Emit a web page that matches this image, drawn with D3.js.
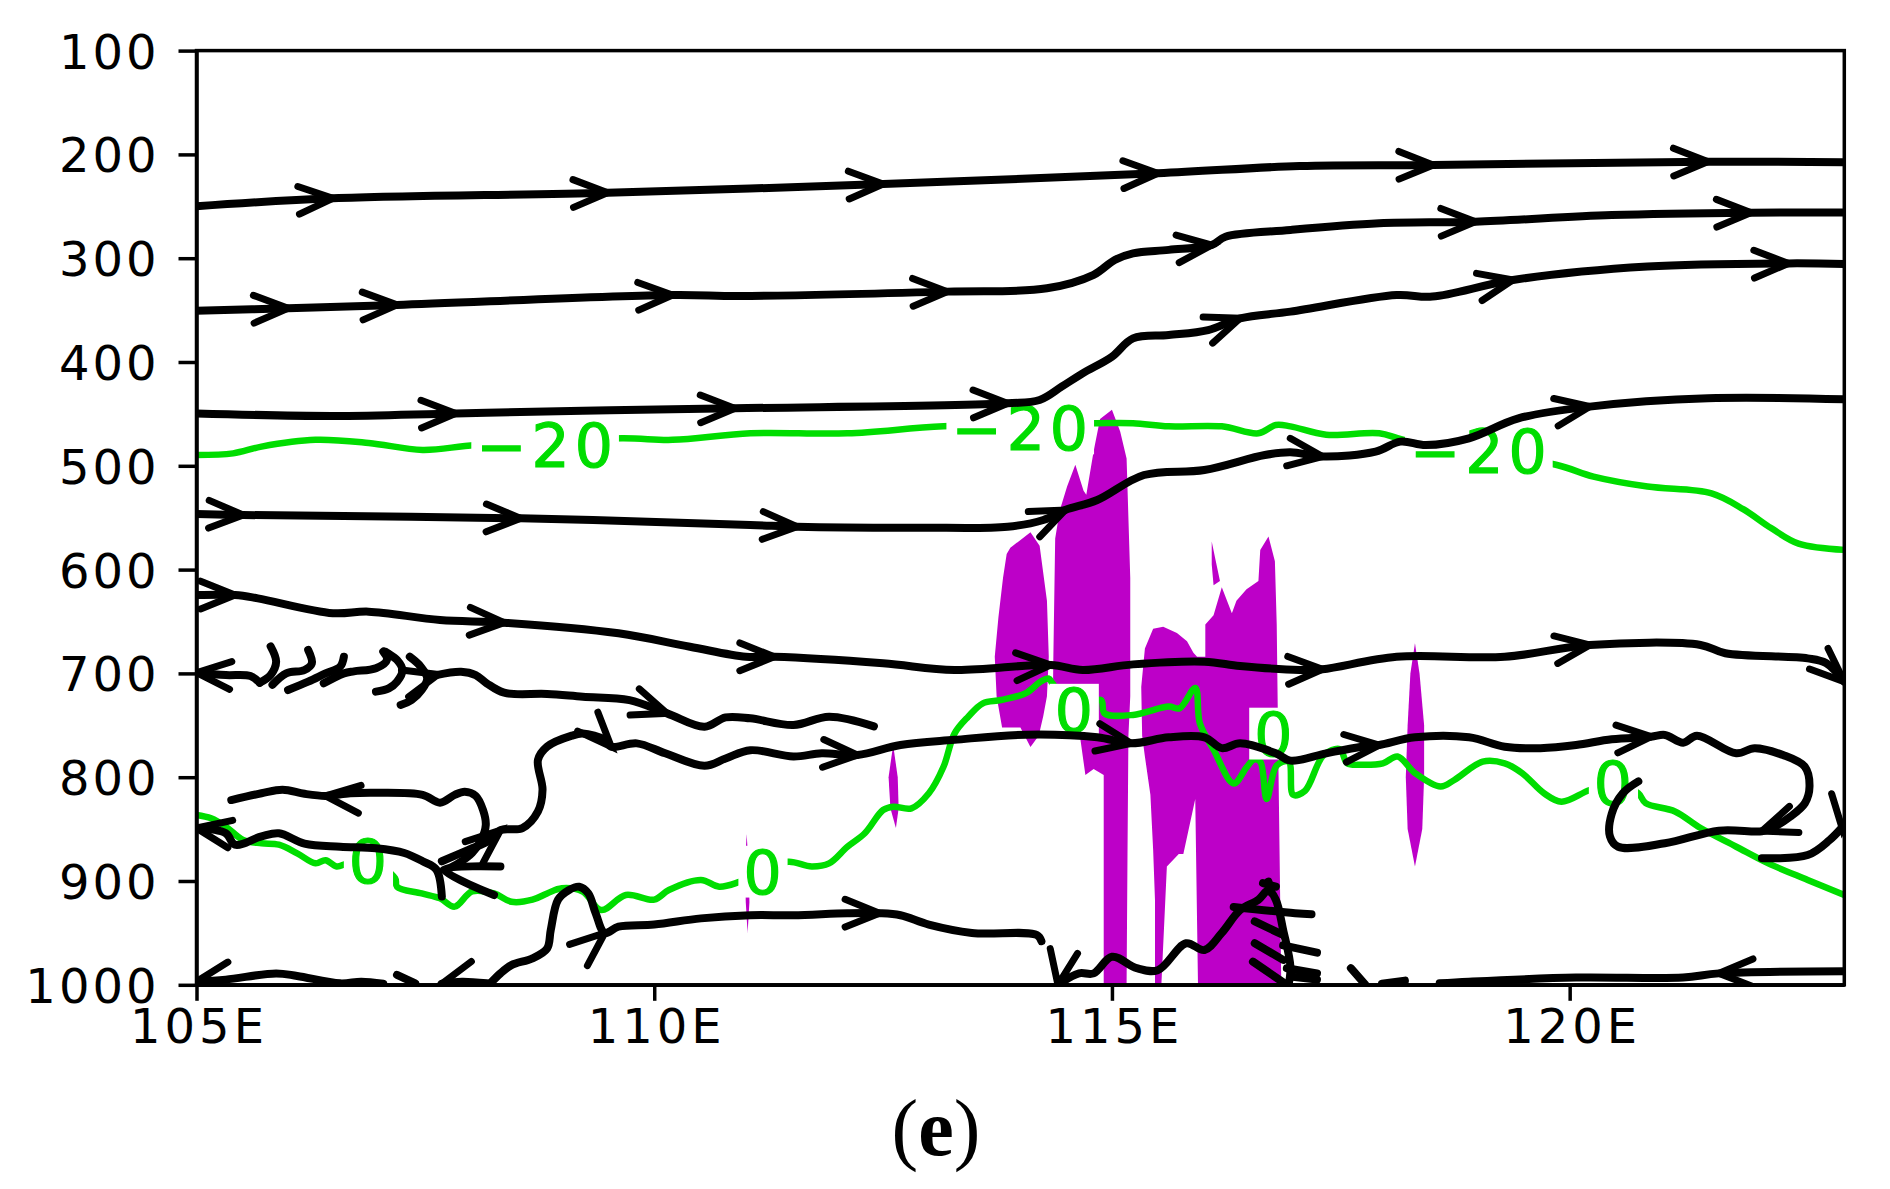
<!DOCTYPE html>
<html>
<head>
<meta charset="utf-8">
<script src="https://cdn.jsdelivr.net/npm/d3@7"></script>
<style>
  body { margin: 0; background: #fff; }
  svg { display: block; }
</style>
</head>
<body>
<svg id="chart" width="1890" height="1189"></svg>
<script>
// ---- axes ----
const lonTicks = [105, 110, 115, 120];
const presTicks = [100, 200, 300, 400, 500, 600, 700, 800, 900, 1000];

// ---- streamlines, [lon, hPa] ----
const s250 = [[105,250],[106.49,242.3],[109.49,237],[112.5,228.5],[115.5,218.2],[117.05,211.2],[118.51,210.2],[121.51,207],[123,207.6]];
const s350 = [[105,350.6],[106.0,348.3],[107.19,345],[110.2,335.5],[110.94,336.4],[113.2,332.2],[114.29,329],[114.8,316],[115.03,301.7],[115.23,295.3],[115.62,292],[116.09,287.3],[116.24,279.3],[116.95,272.8],[117.92,266.4],[118.97,264.8],[120.46,258.4],[121.98,256.1],[123,256]];
const s450 = [[105,449.5],[106.49,452],[107.83,449.5],[109.22,447],[110.88,444.6],[113.86,439.8],[114.21,436.6],[114.45,423.8],[114.68,410.9],[115.0,394.9],[115.23,377.2],[115.62,374],[116.05,369.2],[116.4,357.9],[116.95,351.5],[118.11,335.5],[118.5,337],[119.38,321],[120.85,308],[122.39,305],[123,305.5]];
const s550 = [[105,546.4],[105.51,547.4],[108.54,550.6],[111.05,557],[111.56,558.7],[112.89,559.6],[113.86,558.7],[114.25,552.2],[114.49,542.6],[114.84,533],[115.35,508.9],[116.01,504],[116.67,489.6],[116.95,487],[117.3,491],[117.88,486.4],[118.15,476.7],[118.43,480],[118.9,473.5],[119.44,454.3],[120.22,443],[121.51,435],[123,436]];
const s620 = [[105,624.5],[105.42,624.5],[105.67,627.7],[106.49,642],[106.88,640.5],[107.66,648.6],[108.36,651.1],[109.61,661.4],[110.39,674.3],[111.0,684],[111.31,684],[112.5,690.3],[113.28,696.7],[114.33,691.9],[114.68,696.7],[115.23,691.3],[116.01,688.7],[116.4,692.8],[117.05,696.7],[117.3,696],[118.11,684],[119.29,684],[120.22,672.6],[121.43,672.6],[121.7,680.6],[122.6,685.5],[122.8,690],[123.0,708]];
const s700w = [[105,699.3],[105.32,701.6],[105.59,702.5],[105.69,709]];
const hookA = [[105.69,709],[105.81,701.5],[105.87,688.7],[105.81,674]];
const hookB = [[105.83,711],[105.98,700],[106.18,696.7],[106.26,690.3],[106.22,677.4]];
const hookC = [[106.0,716],[106.22,708],[106.41,700],[106.57,693.5],[106.61,684]];
const hookD = [[106.39,709.6],[106.61,700],[106.72,698],[106.96,695],[107.08,687],[107.04,679]];
const hookE = [[106.96,717.6],[107.1,714.4],[107.19,708],[107.25,697],[107.19,687],[107.06,679]];
const hookF = [[107.23,730.4],[107.35,725.6],[107.46,716],[107.52,704.7],[107.45,693.5],[107.33,684]];
const s700e = [[107.62,701.6],[107.89,698.4],[108.05,701.6],[108.17,709.5],[108.36,718.6],[108.83,719.8],[109.22,722.5],[109.73,725.7],[110.14,738.5],[110.55,751.4],[110.78,742.4],[111.05,743.3],[111.52,749.7],[111.91,741.7],[112.4,751]];
const s800w = [[105.38,822],[105.71,815.5],[105.94,812],[106.18,816],[106.41,818],[106.68,815.5],[106.96,815],[107.47,817],[107.66,824.5],[107.82,817],[107.93,814],[108.05,818],[108.13,831.6],[108.16,846],[108.11,860.5],[108.01,873],[107.86,883],[107.74,888.7]];
const s850w = [[105,849],[105.32,854],[105.42,865],[105.71,857],[105.9,854],[106.18,864],[106.57,867],[106.96,868.5],[107.27,873],[107.47,881],[107.62,889],[107.68,915]];
const wedge = [[108.32,886],[107.7,889],[108.25,913.5]];
const s780 = [[107.68,881],[107.97,870],[108.21,860.5],[108.32,851],[108.56,849],[108.73,833],[108.78,812],[108.73,783.4],[108.83,770.6],[109.1,760],[109.22,758],[109.46,764],[109.53,770.6],[109.81,767.4],[110.12,777],[110.55,789],[110.78,782],[111.05,774],[111.52,780],[111.83,777],[112.22,778.6],[112.69,769],[113.28,764],[114.06,759],[114.84,761.6],[115.21,767.4],[115.62,761.6],[116.01,761.6],[116.2,772],[116.4,767.4],[116.79,777],[116.95,784],[117.34,777],[117.73,770.6],[117.92,769],[118.31,761.6],[118.9,761.6],[119.29,770.6],[119.68,772],[120.07,769],[120.46,763.5],[120.89,761],[121.04,759.3],[121.24,766.7],[121.39,760],[121.82,777],[122.02,772],[122.33,778.6],[122.57,790],[122.62,809],[122.57,825],[122.41,838],[122.21,849],[122.1,852],[121.63,851.5],[121.04,863.7],[120.53,867],[120.44,857],[120.46,835],[120.58,815.5],[120.75,804]];
const sHill = [[108.21,998.6],[108.32,989],[108.44,981],[108.67,974.5],[108.83,965],[108.87,947],[108.95,918],[109.07,908.6],[109.18,905.5],[109.28,912],[109.36,931],[109.46,950],[109.61,944],[110.0,942],[110.51,936],[111.05,933],[111.52,933],[112.11,931],[112.46,931],[112.69,933],[113.0,942],[113.47,950],[114.18,952],[114.23,958]];
const sRight = [[122.1,878],[122.6,875],[122.84,860.5],[123.0,846]];
const bottomW = [[105,997],[105.32,995],[105.87,989],[106.1,991.5],[106.57,998.6],[106.8,997],[107.04,999]];
const bottomBits = [[[107.19,990.5],[107.39,998.6]],[[107.68,999],[107.9,997],[108.17,998.6]],[[116.95,992],[117.24,995]],[[117.61,984],[117.77,1000]],[[117.95,999],[118.2,996]]];
const bottomRise = [[114.41,1000],[114.64,989],[114.8,989],[115.0,973],[115.27,984],[115.5,986],[115.81,960],[116.01,966.5],[116.2,950],[116.4,928],[116.6,918],[116.71,909],[116.79,918],[116.87,947],[116.95,983],[116.93,1000]];
const fan = [[[116.33,925],[117.0,931],[117.18,932]],[[116.56,939],[116.87,952]],[[116.56,960],[116.87,976]],[[116.54,977.7],[116.91,1000]],[[116.87,962],[117.24,969]],[[116.91,984],[117.24,989]],[[116.65,902],[116.79,905.5]],[[116.71,900.6],[116.74,911]]];
const bottomE = [[123,987],[121.63,989],[121.24,993],[120.07,993],[118.9,997],[118.58,998.6]];

// ---- arrowheads: [lon, hPa, direction] ('e'/'w' follow the line, number = degrees) ----
const arrowHeads = [
  [106.49,242.3,"e"],[109.49,237,"e"],[112.5,228.5,"e"],[115.5,218.2,"e"],[118.51,210.2,"e"],[121.51,207,"e"],
  [106.0,348.3,"e"],[107.19,345,"e"],[110.2,335.5,"e"],[113.2,332.2,"e"],[116.09,287.3,"e"],[118.97,264.8,"e"],[121.98,256.1,"e"],
  [107.83,449.5,"e"],[110.88,444.6,"e"],[113.86,439.8,"e"],[116.4,357.9,"e"],[119.38,321,"e"],[122.39,305,"e"],
  [105.51,547.4,"e"],[108.54,550.6,"e"],[111.56,558.7,"e"],[114.49,542.6,"e"],[117.3,491,"e"],[120.22,443,"e"],
  [105.42,624.5,"e"],[108.36,651.1,"e"],[111.31,684,"e"],[114.33,691.9,"e"],[117.3,696,"e"],[120.22,672.6,"e"],[123.0,708,-42],
  [105.0,699.3,"w"],[107.64,701,15],[110.14,738.5,"e"],
  [106.41,818,"w"],[105.0,849,"w"],
  [108.32,851,40],[109.53,770.6,"e"],[112.22,778.6,"e"],[115.21,767.4,"e"],[117.92,769,"e"],[120.89,761,"e"],[122.1,852,200],
  [109.46,950,40],[112.46,931,"e"],
  [105.0,997,190],[107.68,999,195],[114.41,1000,260],[121.63,989,"w"],[122.98,850,265]
];

// ---- shaded areas, [lon, hPa] ----
const shadeA = [[113.89,579],[114.11,564],[114.21,577],[114.29,630],[114.31,684],[114.29,722],[114.25,741],[114.2,760],[114.11,771],[114.0,752],[113.89,752],[113.8,752],[113.74,722],[113.72,684],[113.76,646],[113.81,608],[113.85,585]];
const shadeB = [[114.35,760],[114.36,684],[114.38,570],[114.43,543],[114.51,520],[114.6,499],[114.69,524],[114.72,528],[114.8,486],[114.87,455],[115.0,446],[115.09,467],[115.16,493],[115.2,608],[115.2,722],[115.18,760],[115.17,874],[115.16,1000],[114.91,1000],[114.91,798],[114.8,792],[114.71,798],[114.65,760]];
const shadeC = [[115.47,1000],[115.47,918],[115.45,870],[115.42,817],[115.36,780],[115.33,760],[115.32,713],[115.36,676],[115.45,657],[115.56,655],[115.71,661],[115.82,669],[115.89,680],[115.93,684],[116.02,684],[116.02,653],[116.11,644],[116.2,617],[116.31,642],[116.36,630],[116.47,619],[116.6,611],[116.62,581],[116.71,568],[116.78,592],[116.8,653],[116.82,798],[116.85,1000],[115.94,1000],[115.91,821],[115.78,874],[115.73,874],[115.6,886],[115.54,1000]];
const shadeD = [[116.09,573],[116.13,590],[116.18,611],[116.11,615],[116.09,595]];
const shadeE = [[118.31,671],[118.36,700],[118.41,750],[118.41,800],[118.39,850],[118.31,886],[118.23,850],[118.21,800],[118.23,750],[118.26,700]];
const shadeF = [[112.61,769],[112.66,800],[112.67,830],[112.64,849],[112.58,830],[112.56,800]];
const shadeG = [[111.01,855],[111.03,885],[111.04,920],[111.02,950],[111.0,920],[110.99,885]];

// ---- temperature contours ----
const contourM20 = [[105,489.6],[105.4,488],[105.71,481.5],[106.3,475],[106.88,478],[107.47,484.7],[108.05,480],[109.65,473.5],[110.2,475],[111.05,468.7],[112.11,468.7],[113.16,462],[114.84,459],[115.23,459],[115.62,462],[116.2,462],[116.6,468.7],[116.79,460.7],[116.95,462],[117.34,470],[117.92,468.7],[118.19,475],[119.85,499],[120.26,510.4],[120.85,520],[121.55,526.5],[121.9,542],[122.2,560],[122.5,575],[123.0,581]];
const contour0 = [[105,836.4],[105.16,839.6],[105.32,847.6],[105.51,860.5],[105.71,863.7],[105.9,865],[106.1,873.3],[106.3,883],[106.41,880],[106.53,886],[106.65,883],[106.9,880.5],[107.17,897.4],[107.19,905.5],[107.46,912],[107.66,916.7],[107.82,924.7],[108.01,910],[108.25,912],[108.44,920],[108.67,918],[108.83,912],[108.99,907],[109.22,910.3],[109.42,928],[109.69,913.5],[110.0,918],[110.16,908.7],[110.51,899],[110.71,905.5],[110.94,900.6],[111.21,891],[111.46,881.4],[111.72,886],[111.91,883],[112.11,867],[112.3,854],[112.5,831.6],[112.61,828.4],[112.81,830],[113.0,815.5],[113.16,790],[113.28,758],[113.43,741.7],[113.59,728.8],[113.79,725.6],[114.06,719],[114.22,708],[114.31,705],[114.35,709.6],[114.6,737],[114.88,725.6],[114.92,738.5],[115.23,740],[115.62,732],[115.74,733.6],[115.91,714],[115.96,748],[116.11,773.5],[116.33,806],[116.47,790.6],[116.55,783],[116.62,785],[116.69,821],[116.8,788.7],[116.93,785],[116.98,817],[117.11,813],[117.31,779],[117.49,773],[117.57,786.6],[117.73,788],[117.96,786.6],[118.12,780],[118.31,796],[118.59,809],[118.74,802.7],[119.05,785],[119.29,786.6],[119.48,796],[119.72,815.5],[119.91,823.6],[120.22,812.3],[120.5,806],[120.75,815.5],[120.83,825],[121.15,833],[121.43,849],[121.82,867],[122.17,883],[122.6,899],[123.0,913.5]];
const contourLabels = [[108.83,480,"\u221220"],[114.02,464,"\u221220"],[119.03,486,"\u221220"],
  [106.9,880.5,"0"],[111.21,891,"0"],[114.61,735,"0"],[116.79,758,"0"],[120.5,806,"0"]];

const streamlines = [s250, s350, s450, s550, s620, s700w, hookA, hookB, hookC, hookD, hookE, hookF,
  s700e, s800w, s850w, wedge, s780, sHill, sRight, bottomW, ...bottomBits, bottomRise, ...fan, bottomE];
const shading = [shadeA, shadeB, shadeC, shadeD, shadeE, shadeF, shadeG];

// ---- drawing ----
const svg = d3.select("#chart");
const plot = { x0: 196.5, x1: 1844.3, y0: 50.6, y1: 984.8 };
const x = d3.scaleLinear().domain([105, 123]).range([plot.x0, plot.x1]);
const y = d3.scaleLinear().domain([100, 1000]).range([plot.y0, plot.y1]);

const purple = "#bd00c8";
const green = "#00dd00";
const lineW = 8;

svg.append("defs").append("clipPath").attr("id", "clip")
  .append("rect")
  .attr("x", plot.x0).attr("y", plot.y0)
  .attr("width", plot.x1 - plot.x0).attr("height", plot.y1 - plot.y0);

const body = svg.append("g").attr("clip-path", "url(#clip)");

const straight = d3.line().x((d) => x(d[0])).y((d) => y(d[1]));
const smooth = d3.line().x((d) => x(d[0])).y((d) => y(d[1]))
  .curve(d3.curveCatmullRom.alpha(0.5));

body.selectAll(".shade")
  .data(shading)
  .join("path")
  .attr("class", "shade")
  .attr("d", (d) => straight(d) + "Z")
  .attr("fill", purple);

body.selectAll(".contour")
  .data([contourM20, contour0])
  .join("path")
  .attr("class", "contour")
  .attr("d", smooth)
  .attr("fill", "none")
  .attr("stroke", green)
  .attr("stroke-width", 6.5)
  .attr("stroke-linejoin", "round");

const labelSize = 60;
const labels = body.selectAll(".clabel")
  .data(contourLabels)
  .join("g")
  .attr("class", "clabel")
  .attr("transform", (d) => `translate(${x(d[0])},${y(d[1])})`);

labels.each(function (d) {
  const g = d3.select(this);
  const t = g.append("text")
    .attr("text-anchor", "middle")
    .attr("dy", "0.365em")
    .attr("font-family", "DejaVu Sans")
    .attr("font-size", labelSize)
    .attr("letter-spacing", 5)
    .attr("fill", green)
    .attr("stroke", green)
    .attr("stroke-width", 1.2)
    .text(d[2]);
  const w = t.node().getComputedTextLength();
  const h = labelSize * 0.73;
  g.insert("rect", "text")
    .attr("x", -w / 2 - 5)
    .attr("y", -h / 2 - 4)
    .attr("width", w + 6)
    .attr("height", h + 8)
    .attr("fill", "#fff");
});

body.selectAll(".stream")
  .data(streamlines)
  .join("path")
  .attr("class", "stream")
  .attr("d", smooth)
  .attr("fill", "none")
  .attr("stroke", "#000")
  .attr("stroke-width", lineW)
  .attr("stroke-linejoin", "round")
  .attr("stroke-linecap", "round");

// direction of an arrowhead: explicit angle, or tangent of the nearest line
function headDir(a) {
  if (typeof a[2] === "number") {
    const t = (a[2] * Math.PI) / 180;
    return [Math.cos(t), -Math.sin(t)];
  }
  const px = x(a[0]), py = y(a[1]);
  let best = [1, 0], bd = Infinity;
  streamlines.forEach((line) => {
    for (let i = 1; i < line.length; i++) {
      const ax = x(line[i - 1][0]), ay = y(line[i - 1][1]);
      const dx = x(line[i][0]) - ax, dy = y(line[i][1]) - ay;
      const L2 = dx * dx + dy * dy;
      let t = L2 ? ((px - ax) * dx + (py - ay) * dy) / L2 : 0;
      t = Math.max(0, Math.min(1, t));
      const dd = (ax + t * dx - px) ** 2 + (ay + t * dy - py) ** 2;
      if (dd < bd) { bd = dd; best = [dx, dy]; }
    }
  });
  let [dx, dy] = best;
  const L = Math.hypot(dx, dy);
  dx /= L; dy /= L;
  if ((a[2] === "e" && dx < 0) || (a[2] === "w" && dx > 0)) { dx = -dx; dy = -dy; }
  return [dx, dy];
}

const armLen = 37, armAng = (22 * Math.PI) / 180;
body.selectAll(".head")
  .data(arrowHeads)
  .join("path")
  .attr("class", "head")
  .attr("d", (a) => {
    const [dx, dy] = headDir(a);
    const px = x(a[0]), py = y(a[1]);
    const bx = -dx, by = -dy;
    const arm = (s) => [
      px + armLen * (bx * Math.cos(s * armAng) - by * Math.sin(s * armAng)),
      py + armLen * (bx * Math.sin(s * armAng) + by * Math.cos(s * armAng)),
    ];
    const a1 = arm(1), a2 = arm(-1);
    return `M${a1[0]},${a1[1]}L${px},${py}L${a2[0]},${a2[1]}`;
  })
  .attr("fill", "none")
  .attr("stroke", "#000")
  .attr("stroke-width", 7)
  .attr("stroke-linejoin", "miter")
  .attr("stroke-linecap", "round");

// frame and axes
svg.append("rect")
  .attr("x", plot.x0).attr("y", plot.y0)
  .attr("width", plot.x1 - plot.x0).attr("height", plot.y1 - plot.y0)
  .attr("fill", "none")
  .attr("stroke", "#000")
  .attr("stroke-width", 3.5);

const yAxis = svg.append("g")
  .attr("transform", `translate(${plot.x0},0)`)
  .call(d3.axisLeft(y).tickValues(presTicks).tickFormat(d3.format("d"))
    .tickSize(18).tickSizeOuter(0).tickPadding(19));

const xAxis = svg.append("g")
  .attr("transform", `translate(0,${plot.y1})`)
  .call(d3.axisBottom(x).tickValues(lonTicks).tickFormat((d) => d + "E")
    .tickSize(16).tickSizeOuter(0).tickPadding(8));

[yAxis, xAxis].forEach((ax) => {
  ax.select(".domain").attr("stroke-width", 3.5);
  ax.selectAll(".tick line").attr("stroke-width", 3.5);
  ax.selectAll(".tick text")
    .attr("font-family", "DejaVu Sans")
    .attr("font-size", 48)
    .attr("fill", "#000");
});
yAxis.selectAll(".tick text").attr("dy", "0.365em").attr("letter-spacing", 3);
xAxis.selectAll(".tick text").attr("letter-spacing", 4).attr("dx", 2);

// caption
const cap = svg.append("text")
  .attr("x", 936)
  .attr("y", 1155)
  .attr("text-anchor", "middle")
  .attr("font-family", "Liberation Serif, Times New Roman, serif")
  .attr("font-size", 80)
  .attr("fill", "#000");
cap.append("tspan").text("(");
cap.append("tspan").attr("font-weight", "bold").text("e");
cap.append("tspan").text(")");
</script>
</body>
</html>
